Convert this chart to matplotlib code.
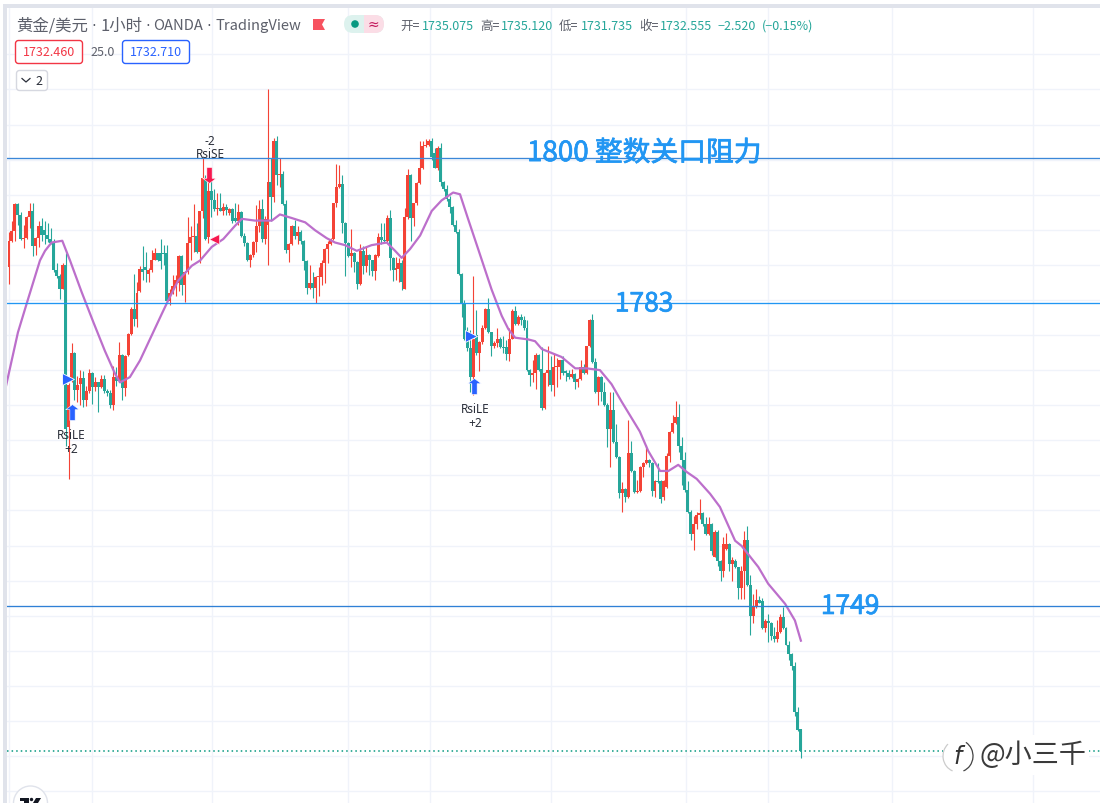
import matplotlib
matplotlib.use("Agg")
import matplotlib.pyplot as plt
import matplotlib.patheffects as pe
from matplotlib.patches import Rectangle, FancyBboxPatch, Polygon, Circle, Arc
from matplotlib.path import Path
import numpy as np

plt.rcParams['font.family'] = ['Noto Sans CJK SC', 'DejaVu Sans']

opens = [
    1787.8,1790.7,1791.9,1794.9,1793.7,1791,1791.1,1793.5,1794.1,1790.2,1791.1,1792.4,1792,1791.4,1790.9,1790.6,1787.4,1786.7,1785.3,1788,1769.5,1775,1778,1773.7,1774.4,
    1775.1,1772.6,1773.6,1775.7,1774.1,1774.6,1774.1,1775,1773.6,1773.4,1772,1775.2,1774.8,1777.7,1774,1777.7,1780.1,1783,1781.8,
    1785,1787.5,1787.8,1787,1787.4,1788.6,1789.3,1789.3,1789.3,1789.3,1783.9,1784.8,1785.6,1785.9,1789,1785.7,1787.2,1790.5,1791.2,1791.3,1789.5,1794.1,1797.7,1791.2,1796.4,1795.4,1794.4,1794.5,1794.2,1794.6,1793.9,1794.4,1793.3,1793,1794,1791.3,1790.5,1788.5,1789.1,1790.6,1792.4,1794.4,1791,1792.5,
    1797.5,1795.7,1802.1,1798.2,1798.4,1794.9,1789.7,1790.4,1792.4,1791.3,1791.8,1790.7,1788.4,1785.4,1785.9,1785.4,1786.6,1786.6,1788.2,1789.8,1790.4,1791,1795,1796.9,1797.2,1792.8,1790.5,1789,1789.4,1788.3,1785.8,1789.6,1787.9,1789.1,1788.5,1787.3,1789,1791.2,1790.8,1790.7,1793.4,1788.8,1787.4,1787.5,
    1788.2,1785.3,1793.5,1798.3,1793.4,1795,1797.3,1799.1,1801.5,1801.7,1802.1,1800.8,1799.1,1801.3,1797.5,1796.6,1795.5,1794.6,1792.5,1791.8,1787,1783.6,1779.5,1778.5,1775.2,1780,1777.9,1779.2,1780.8,1783,1780.3,1778.7,1779.1,1779.6,1778.6,1778.6,1777.8,1779.6,1782.7,1781.3,1782.1,1781.7,1780.8,1776,
    1775.4,1775.7,1777.7,1776.1,1771.7,1775.7,1776,1774.3,1776.3,1776.4,1777.1,1775.9,1775.7,1775.2,1775.6,1774.7,1775,1776.3,1775.7,1778.7,1781.7,1776.9,1773.5,1775.2,1773.5,1772,1769.3,1771.5,1767.8,1766.1,1762,1762.5,1761.5,1766.6,1764.5,1762.1,1762.2,1764.9,1765.4,1765.8,1765.4,1762.2,1763.4,1763.3,
    1761.5,1762.7,1766.2,1769,1770,1770.6,1767.3,1765.7,1762.3,1759.8,1757.3,1758.5,1759.5,1759.7,1758.4,1757.3,1758.5,1754.7,1757.5,1754.2,1753.1,1755.6,1756.2,1753.9,1754.2,1753.5,1751.2,1753.1,1756.6,1751.5,1748,1749,1749.8,1749.7,1746.6,1747.4,1747.2,1745.7,1745.3,1746.1,1747.9,1746.6,1744.7,1743.6,1742.3,1737,1735.075,
]
highs = [
    1791.8,1793,1795,1795,1794,1792.6,1793.6,1795,1795,1791.2,1793,1793.3,1793,1792.8,1792.2,1790.9,1788.2,1787,1788.2,1789.3,1774.5,1779.1,1778.1,1775.3,1776,
    1775.9,1774.2,1776.1,1775.8,1775.2,1774.7,1775.4,1775.4,1773.8,1773.7,1776.5,1776.3,1779.2,1777.8,1777.7,1780.2,1783.2,1787,1786,
    1787.9,1790.1,1789.5,1787.6,1789.7,1789.9,1789.4,1791,1790.3,1790.3,1785.2,1786.8,1786.8,1789.1,1789.1,1787.3,1793.5,1792.4,1794.9,1792.8,1794.2,1800.2,1798.3,1798.1,1799,1796.6,1796.2,1796.2,1795,1794.9,1794.5,1794.5,1795,1794.9,1794.1,1791.6,1790.6,1789.2,1790.7,1794.8,1795.4,1795.5,1793.6,1808,
    1800.2,1802.5,1802.7,1800.2,1798.7,1795.4,1790.5,1792.5,1793.1,1792.4,1792,1790.8,1788.5,1788,1787.2,1786.7,1787.8,1788.5,1789.9,1790.7,1791.1,1795.1,1799.5,1799.4,1798.2,1792.9,1790.6,1792.1,1789.5,1788.4,1790.4,1790.1,1790.1,1789.2,1788.6,1789.2,1791.6,1792.8,1792.8,1793.7,1794.3,1788.9,1788.9,1788.8,
    1788.5,1794.5,1798.9,1798.4,1795.1,1797.4,1802.1,1802.1,1802.3,1802.3,1802.5,1801.3,1801.5,1801.9,1797.6,1797.1,1795.8,1794.7,1793.1,1792.1,1787.1,1784,1780.9,1780.6,1786.7,1782.9,1779.3,1781.1,1783.1,1784.2,1780.4,1779.3,1780.8,1779.8,1779.9,1779.4,1780.8,1783,1783.3,1782.3,1782.4,1782.2,1781.7,1776.1,
    1777.1,1778,1777.8,1778.6,1775.8,1778.7,1777.6,1777.8,1777.4,1777.2,1777.6,1776,1776,1776.1,1775.7,1775.1,1777.1,1776.7,1778.8,1781.8,1782.4,1777.4,1775.3,1775.3,1774.6,1772.2,1773.5,1773.5,1769.8,1766.2,1763.2,1762.6,1770.3,1767.9,1764.6,1763.5,1765.1,1765.5,1767.5,1765.9,1765.5,1763.5,1765.4,1763.5,
    1763.5,1766.5,1769.1,1770.9,1772.5,1772.1,1768.4,1766.7,1763.4,1760,1759.4,1759.8,1761.3,1759.8,1759.2,1759.2,1758.6,1757.8,1757.8,1754.3,1757,1757.4,1756.3,1754.7,1754.5,1753.6,1753.7,1757.6,1758.2,1752.6,1750.5,1751,1750.3,1750,1747.6,1748.2,1747.3,1746.7,1747.5,1748.2,1749,1746.7,1745.1,1743.8,1742.7,1737.6,1735.12,
]
lows = [
    1785.8,1790.6,1790.7,1792.5,1790.8,1789.9,1791,1792.2,1789,1789.1,1790,1790.7,1790.4,1790.6,1790.4,1787.2,1786.5,1784.1,1785.2,1767.4,1763.6,1774.6,1772.6,1772.4,1772,
    1771.8,1771.9,1773.4,1772.1,1773.6,1771.2,1774,1773.4,1773.1,1771.7,1771.5,1774.2,1774.6,1772.6,1773,1777.6,1780,1781,1780.9,
    1784.9,1786.3,1786,1786,1787.2,1788.5,1788.4,1787.5,1788,1783.8,1783.4,1784.7,1784.4,1785,1784.6,1783.8,1787,1788.6,1789.5,1789.3,1788.2,1793.3,1790.8,1790.5,1793.5,1794.1,1793.7,1794.1,1793.7,1793.7,1793.7,1792.8,1792.9,1792.6,1791.2,1790.1,1788.4,1787.8,1788.9,1789.5,1791.8,1790.6,1790.4,1788,
    1793,1795.2,1797.1,1796.9,1794.8,1789.3,1788.3,1790.3,1791,1790.4,1790.4,1787.4,1784.7,1785.3,1784.2,1783.7,1784.4,1785.7,1785.9,1788.2,1790.3,1790.8,1794.6,1796.8,1791.6,1786.7,1788.9,1787.8,1787.2,1785.3,1785.7,1787,1787.2,1786.9,1786.7,1786.3,1788.9,1790.4,1790.5,1790.5,1787.4,1786.2,1786.3,1786.1,
    1785.1,1785.2,1793.2,1790.7,1792.4,1794.8,1797.2,1798.9,1801.4,1801.6,1800,1799,1798.8,1797,1796.4,1795.3,1793.9,1792.4,1791.6,1786.9,1782.1,1779.4,1778.2,1773.5,1773.2,1777.7,1775.9,1779,1780.7,1780.2,1777.6,1778.5,1778.6,1778.5,1777.9,1777.1,1777,1779.5,1781.2,1781.2,1781.1,1780.6,1775.9,1774.2,
    1774.6,1773.9,1775.9,1771.5,1771.6,1774.2,1773.6,1773,1774.1,1775,1775.5,1774.8,1775,1775.1,1773.8,1774.1,1774.9,1775.6,1775.6,1778.6,1776.8,1773.4,1772,1772.5,1771.9,1767.2,1764.9,1767.7,1766,1761.4,1759.8,1761,1761.4,1764.4,1762,1762,1762.1,1763.8,1765.3,1765,1761.6,1761.5,1763.1,1760.9,
    1761.2,1762.6,1765.5,1768.8,1769.9,1766.7,1762.9,1762.1,1759.7,1756.6,1755.5,1757.9,1759,1758.2,1757.2,1757.2,1754.9,1754.7,1753.7,1751.9,1752.4,1755.5,1753.1,1752,1753.4,1749.9,1749.9,1749.9,1751.4,1745.8,1747.2,1748.9,1749.4,1746.5,1746.1,1745,1745.2,1745,1745,1746,1746.5,1744.6,1743,1741.8,1736.6,1734.9,1731.735,
]
closes = [
    1790.7,1791.9,1794.9,1793.7,1791,1791.1,1793.5,1794.1,1790.2,1791.1,1792.4,1791.4,1791.4,1790.9,1790.5,1787.4,1786.7,1785.3,1788,1769.3,1774.3,1778,1773.7,1774.3,1775.1,
    1772.6,1773.6,1775.7,1774.1,1774.7,1774.1,1775,1773.6,1773.4,1772,1775.2,1774.8,1777.7,1774,1777.6,1780.1,1783,1781.8,1784.8,
    1787.5,1787.2,1787.4,1787.4,1788.6,1789.3,1788.5,1788.4,1789.2,1783.9,1784.8,1785.6,1786.3,1789,1785.7,1787.2,1790.5,1791.2,1791.3,1789.5,1794.1,1797.9,1791,1796.4,1795.4,1794.4,1794.5,1794.2,1794.6,1794.3,1794.4,1793,1793,1794,1791.3,1790.5,1788.5,1789.1,1790.6,1792.4,1794.4,1791,1793.2,1797.5,
    1795.7,1802.1,1798.2,1798.4,1794.9,1789.7,1790.4,1792.4,1791.3,1791.8,1790.7,1788.4,1785.4,1785.9,1785.4,1786.6,1786.6,1788.2,1789.8,1790.4,1791,1795,1796.9,1797.2,1792.8,1790.5,1789,1789.4,1788.3,1785.8,1789.6,1787.9,1789.1,1788.5,1787.3,1789.1,1791.2,1790.8,1790.7,1793.4,1788.8,1787.4,1787.6,1788.2,
    1786.1,1793.5,1798.3,1793.4,1795,1797.3,1799.1,1801.5,1801.7,1802.1,1800.3,1799.1,1801.3,1797.5,1796.6,1795.5,1794.6,1792.5,1791.7,1787,1783.7,1779.5,1778.5,1775.2,1779.6,1777.9,1779.2,1780.8,1783,1780.3,1778.7,1779.1,1779.6,1778.6,1778.5,1777.8,1779.6,1782.7,1781.3,1782.1,1781.7,1780.8,1776,1775.5,
    1775.7,1777.7,1776,1771.7,1775.7,1776,1774.3,1776.3,1776.4,1777.1,1775.7,1775.7,1775.2,1775.6,1774.7,1775,1776.3,1775.7,1778.7,1781.7,1776.9,1773.5,1775.2,1773.5,1772,1769.3,1771.5,1767.8,1766.1,1762,1762.5,1761.5,1766.6,1764.5,1762.1,1762.2,1764.9,1765.4,1765.8,1765.4,1762.2,1763.4,1763.2,1761.3,
    1763.4,1766.2,1769,1770,1770.6,1767.3,1765.7,1762.3,1759.8,1757.3,1758.5,1759.5,1759.7,1758.4,1757.3,1758.5,1755.4,1757.5,1754.2,1753.1,1756.2,1756.2,1753.9,1754.3,1753.5,1751.2,1753.1,1756.6,1751.5,1748,1749,1749.8,1749.5,1746.6,1747.4,1747.2,1745.7,1745.3,1746.1,1747.9,1746.6,1744.7,1743.6,1742.3,1737,1735,1732.555,
]

# moving average read at bar positions
ma_bars = [-1,3,6.4,10.4,12.1,14.3,17.9,20.5,24.4,28.3,32.2,35.6,37.3,40.6,44,51.3,53.4,56.8,61.4,64.2,68.1,72,75.9,78.2,82.6,87.1,88.3,91,94.9,99.5,102.8,106.7,109.5,112.9,116.8,121.8,126.9,129.7,131.9,134.7,138.1,142,145.3,149.2,151.5,154.2,157.6,162.1,165.5,167.7,170,174.4,176.7,179,185.6,190.2,194.1,198.5,202.4,205.8,211.9,214.7,218.7,221.5,224.8,227.6,231,235.5,238.8,243.9,246.1,251.7,255,260.7,264,266]
ma_vals = [1774.2,1780.3,1784.1,1788.5,1789.6,1790.55,1790.75,1788.5,1784.9,1781.5,1778.2,1775.6,1774.6,1775.2,1777.1,1782.4,1783.9,1786.2,1787.9,1788.5,1790.05,1790.95,1792.45,1793.25,1793.05,1793.05,1793.05,1793.75,1793.35,1792.85,1791.95,1791.05,1790.55,1790.25,1789.6,1790.25,1790.55,1789.6,1788.8,1789.8,1791.35,1794.15,1795.35,1796.25,1796.05,1793.25,1789.8,1785.2,1782.2,1780.7,1779.7,1779.5,1779.3,1778.4,1777.5,1776.2,1776.2,1776,1774.4,1772.4,1769,1766.8,1764.5,1764.5,1765.2,1764.4,1763.6,1761.9,1760.4,1756.55,1755.95,1753.55,1751.65,1749.35,1747.45,1745.15]

level_prices = [1800.13, 1783.6, 1749.05]
level_colors = ['#3B87D8', '#2196F3', '#2F80D6']
last_price = 1732.555

grid_prices = np.arange(1728, 1816, 4)
grid_bars = [0, 27.9, 68.2, 113.9, 141.4, 182.1, 227.4, 255, 296.6, 344]

RED = '#F44336'
TEAL = '#26A69A'
BLUE = '#2196F3'
ARROW_BLUE = '#2962FF'
PINK = '#F7184F'
GREY = '#5D606B'

fig = plt.figure(figsize=(11, 8.04), dpi=100)
ax = fig.add_axes([7 / 1100, 0, 1093 / 1100, 795 / 804])

x = np.arange(len(closes))
o = np.array(opens)
h = np.array(highs)
l = np.array(lows)
c = np.array(closes)
colors = np.where(c >= o, RED, TEAL)

ax.vlines(x, l, h, colors=colors, lw=0.8, zorder=3)
ax.bar(x, np.maximum(np.abs(c - o), 0.12), bottom=np.minimum(o, c), width=1.0,
       color=colors, lw=0, zorder=4)
ax.plot(ma_bars, ma_vals, color='#BC6FCB', lw=1.6, zorder=5, solid_joinstyle='round')

for price, col in zip(level_prices, level_colors):
    ax.axhline(price, color=col, lw=0.95, zorder=6)
ax.axhline(last_price, color='#089981', lw=1.1, ls=(0, (1, 2)), zorder=2)

bold = [pe.withStroke(linewidth=0.5, foreground=BLUE)]
ax.text(174, 1800.75, '1800 整数关口阻力', color=BLUE, fontsize=20, va='center', zorder=7, path_effects=bold)
ax.text(203.5, 1783.54, '1783', color=BLUE, fontsize=19, va='center', zorder=7, path_effects=bold)
ax.text(272.7, 1749.05, '1749', color=BLUE, fontsize=19, va='center', zorder=7, path_effects=bold)

# strategy signals
arrow = Path([(-0.33, -1), (0.33, -1), (0.33, 0.35), (0.85, 0.35), (0, 1), (-0.85, 0.35),
              (-0.33, 0.35), (-0.33, -1)], closed=True)
arrow_down = Path(arrow.vertices * [1, -1], closed=True)
ax.plot([21, 156.2], [1771.2, 1774.2], ls='', marker=arrow, ms=11.5, mfc=ARROW_BLUE, mec='white', mew=0.4, zorder=8)
ax.plot([67.2], [1798.25], ls='', marker=arrow_down, ms=11.5, mfc=PINK, mec='white', mew=0.4, zorder=8)
ax.plot([19.8, 155.2], [1774.99, 1779.9], ls='', marker='>', ms=8, mfc=ARROW_BLUE, mec='white', mew=0.6, zorder=8)
ax.plot([68.9], [1790.95], ls='', marker='<', ms=7, mfc=PINK, mec='white', mew=0.4, zorder=8)

sig_style = dict(fontsize=8.5, color='#2A2E39', ha='center', va='center', zorder=9, family='Noto Sans')
ax.text(20.9, 1768.66, 'RsiLE', **sig_style)
ax.text(20.9, 1767.06, '+2', **sig_style)
ax.text(156.5, 1771.62, 'RsiLE', **sig_style)
ax.text(156.5, 1770.03, '+2', **sig_style)
ax.text(67.5, 1802.18, '-2', **sig_style)
ax.text(67.5, 1800.7, 'RsiSE', **sig_style)

ax.set_xlim((7 - 9) / 2.977, (1100 - 9) / 2.977)
ax.set_ylim(1732 - 47 / 8.77, 1732 + 748 / 8.77)
ax.set_xticks(grid_bars)
ax.set_yticks(grid_prices)
ax.tick_params(length=0, labelbottom=False, labelleft=False)
ax.grid(True, color='#F0F3FA', lw=1)
ax.set_axisbelow(True)
for s in ax.spines.values():
    s.set_visible(False)

# overlay in image pixels for the page furniture
ui = fig.add_axes([0, 0, 1, 1], zorder=10)
ui.set_xlim(0, 1100)
ui.set_ylim(804, 0)
ui.axis('off')

ui.add_patch(Rectangle((3, 5), 1097, 4, fc='#E0E3EB', lw=0))
ui.add_patch(Rectangle((3, 5), 4, 799, fc='#E0E3EB', lw=0))

title_bits = [(16, '黄金/美元', 11.8), (101, '1小时', 11.8), (153, 'OANDA', 10.6), (215, 'TradingView', 10.6)]
for px, s, size in title_bits:
    ui.text(px, 26, s, color=GREY, fontsize=size, va='center')
for px in [93.5, 147.5, 208.5]:
    ui.text(px, 26, '·', color=GREY, fontsize=10.6, ha='center', va='center', family='DejaVu Sans')
ui.add_patch(Polygon([(313, 20), (325, 20), (322, 25.5), (325, 31), (313, 31)], fc='#F7525F', lw=0))

pill = FancyBboxPatch((344, 16), 40, 18, boxstyle='round,pad=0,rounding_size=9', fc='#DDF2EE', lw=0)
ui.add_patch(pill)
half = Rectangle((364, 16), 20, 18, fc='#FBDDE6', lw=0)
ui.add_patch(half)
half.set_clip_path(pill)
ui.add_patch(Circle((355, 25), 3.8, fc='#089981', lw=0))
ui.text(373, 25, '≈', color='#C2185B', fontsize=10, ha='center', va='center', family='DejaVu Sans')

ohlc = [(400, '开=', GREY), (421.5, '1735.075', TEAL), (480, '高=', GREY), (501, '1735.120', TEAL),
        (559, '低=', GREY), (580.5, '1731.735', TEAL), (639, '收=', GREY), (660, '1732.555', TEAL),
        (718, '−2.520', TEAL), (762, '(−0.15%)', TEAL)]
for px, s, col in ohlc:
    ui.text(px, 26.5, s, color=col, fontsize=9, va='center')

ui.add_patch(FancyBboxPatch((15.5, 41.5), 67, 23, boxstyle='round,pad=0,rounding_size=3', fc='white', ec='#F23645', lw=1))
ui.text(49, 53, '1732.460', color='#F23645', fontsize=9, ha='center', va='center')
ui.text(102.5, 52.5, '25.0', color=GREY, fontsize=9, ha='center', va='center')
ui.add_patch(FancyBboxPatch((122.5, 41.5), 67, 23, boxstyle='round,pad=0,rounding_size=3', fc='white', ec=ARROW_BLUE, lw=1))
ui.text(156, 53, '1732.710', color=ARROW_BLUE, fontsize=9, ha='center', va='center')

ui.add_patch(FancyBboxPatch((16.5, 71.5), 31, 20, boxstyle='round,pad=0,rounding_size=3', fc='white', ec='#D6D8E0', lw=1))
ui.plot([22, 26, 30], [79.5, 83, 79.5], color='#2A2E39', lw=0.9)
ui.text(39, 81.5, '2', color='#2A2E39', fontsize=9, ha='center', va='center')

# watermark
ui.add_patch(Rectangle((943, 736), 146, 40, fc='white', lw=0))
ui.text(1033, 755, '@小三千', color='#3A3A3A', fontsize=19.5, ha='center', va='center', weight='light')
ui.text(958, 757, 'f', color='#333333', fontsize=17, style='italic', ha='center', va='center', family='DejaVu Sans')
ui.add_patch(Arc((958, 757), 30, 32, theta1=-60, theta2=70, ec='#444444', lw=0.9))
ui.add_patch(Arc((958, 757), 30, 32, theta1=110, theta2=230, ec='#CCCCCC', lw=0.9))

# logo at the lower left, cut by the image edge
ui.add_patch(Circle((30.5, 804), 17, fc='white', ec='#E0E3EB', lw=1))
ui.add_patch(Polygon([(20, 799), (29, 799), (29, 804), (24, 804), (24, 802), (20, 802)], fc='#131722', lw=0))
ui.add_patch(Circle((31.5, 800.5), 1.7, fc='#131722', lw=0))
ui.add_patch(Polygon([(36, 799), (41, 799), (38, 804), (33, 804)], fc='#131722', lw=0))

fig.savefig('out.png', dpi=100)
